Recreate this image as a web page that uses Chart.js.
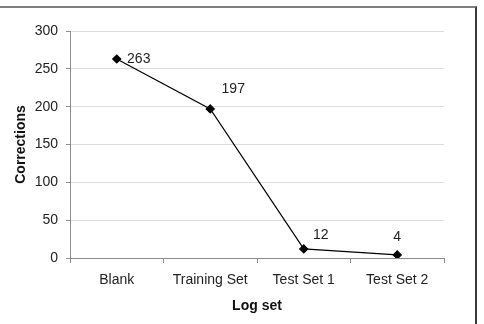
<!DOCTYPE html>
<html>
<head>
<meta charset="utf-8">
<script src="https://cdn.jsdelivr.net/npm/chart.js@4.4.1/dist/chart.umd.min.js"></script>
<style>
    html, body { margin: 0; padding: 0; background: #fff; }
    #wrap { position: relative; width: 484px; height: 324px; overflow: hidden; }
    #frame {
        position: absolute; left: -2px; top: 6px; width: 477px; height: 330px;
        border-top: 2px solid #7f7f7f; border-right: 2px solid #3a3a3a;
        pointer-events: none;
    }
    canvas { position: absolute; left: 0; top: 0; }
</style>
</head>
<body>
<div id="wrap">
    <canvas id="correctionsChart" width="484" height="324"></canvas>
    <div id="frame"></div>
</div>
<script>
// Chart data
const logSets = ['Blank', 'Training Set', 'Test Set 1', 'Test Set 2'];
const corrections = [263, 197, 12, 4];
const yTicks = [0, 50, 100, 150, 200, 250, 300];

const FONT = '"Liberation Sans", Arial, sans-serif';

// Draw value labels next to each marker (offsets mimic the original placement)
const valueLabels = {
    id: 'valueLabels',
    afterDatasetsDraw: function (chart, args, opts) {
        const ctx = chart.ctx;
        const meta = chart.getDatasetMeta(0);
        ctx.save();
        ctx.font = '14px ' + FONT;
        ctx.fillStyle = '#222';
        ctx.textAlign = 'center';
        ctx.textBaseline = 'middle';
        meta.data.forEach(function (pt, i) {
            const off = opts.offsets[i] || [0, -16];
            ctx.fillText(String(corrections[i]), pt.x + off[0], pt.y + off[1]);
        });
        ctx.restore();
    }
};

const ctx = document.getElementById('correctionsChart').getContext('2d');

new Chart(ctx, {
    type: 'line',
    data: {
        labels: logSets,
        datasets: [{
            label: 'Corrections',
            data: corrections,
            borderColor: '#000',
            borderWidth: 1.2,
            backgroundColor: '#000',
            pointStyle: 'rectRot',
            pointRadius: 4,
            pointBackgroundColor: '#000',
            pointBorderColor: '#000',
            tension: 0,
            fill: false
        }]
    },
    options: {
        responsive: false,
        animation: false,
        layout: {
            padding: { left: 0, top: 31, right: 40, bottom: 9 }
        },
        plugins: {
            legend: { display: false },
            tooltip: { enabled: false },
            valueLabels: {
                offsets: [[22, 0], [23, -20], [17, -14], [0, -18]]
            }
        },
        scales: {
            x: {
                offset: true,
                grid: {
                    offset: true,
                    drawOnChartArea: false,
                    tickLength: 5,
                    tickColor: '#8c8c8c'
                },
                border: { color: '#8c8c8c', width: 1 },
                ticks: {
                    color: '#222',
                    padding: 9,
                    maxRotation: 0,
                    font: { family: FONT, size: 14 }
                },
                title: {
                    display: true,
                    text: 'Log set',
                    color: '#111',
                    font: { family: FONT, size: 14, weight: 'bold' },
                    padding: { top: 0, bottom: 0 }
                },
                afterFit: function (scale) { scale.height = 57; }
            },
            y: {
                min: 0,
                max: 300,
                afterBuildTicks: function (scale) {
                    scale.ticks = yTicks.map(v => ({ value: v }));
                },
                grid: {
                    color: function (c) { return c.tick && c.tick.value === 0 ? '#8c8c8c' : '#dcdcdc'; },
                    lineWidth: 1,
                    tickLength: 4,
                    tickColor: '#8c8c8c'
                },
                border: { color: '#8c8c8c', width: 1 },
                ticks: {
                    color: '#222',
                    padding: 8,
                    font: { family: FONT, size: 14 }
                },
                title: {
                    display: true,
                    text: 'Corrections',
                    color: '#111',
                    font: { family: FONT, size: 14, weight: 'bold' },
                    padding: { top: 13, bottom: 0 }
                },
                afterFit: function (scale) { scale.width = 70; }
            }
        }
    },
    plugins: [valueLabels]
});
</script>
</body>
</html>
